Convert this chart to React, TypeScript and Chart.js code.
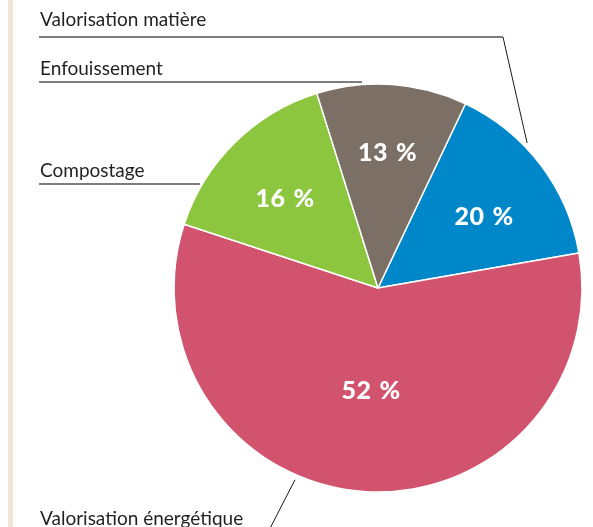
import React, { useEffect, useRef } from "react";
import { Chart, registerables } from "chart.js";

Chart.register(...registerables);

// Slice order (clockwise from the blue slice)
const categories = ["Valorisation matière", "Valorisation énergétique", "Compostage", "Enfouissement"];
// Slice sizes as drawn in the picture (angular share, %)
const sliceShares = [15.2, 57.8, 15.1, 11.9];
// Percentages printed inside the slices
const printedValues = ["20", "52", "16", "13"];
const percentSign = "%";
const sliceColors = ["#0087c9", "#d1536d", "#8cc63f", "#7b6f66"];

const TEXT_FONT = "Lato, 'Open Sans', sans-serif";

const calloutPlugin = {
  id: "callouts",
  afterDraw(chart: any) {
    const ctx = chart.ctx;
    const meta = chart.getDatasetMeta(0);
    const arc0 = meta.data[0];
    const cx = arc0.x;
    const cy = arc0.y;
    const R = arc0.outerRadius;
    const pt = (deg: number, r: number) => {
      const a = (deg * Math.PI) / 180;
      return { x: cx + r * Math.sin(a), y: cy - r * Math.cos(a) };
    };
    const opts = chart.options.plugins.callouts;

    // percentage labels in the slices
    ctx.save();
    ctx.fillStyle = "#ffffff";
    ctx.font = "900 25px " + TEXT_FONT;
    (ctx as any).letterSpacing = "0.5px";
    ctx.textAlign = "left";
    ctx.textBaseline = "alphabetic";
    meta.data.forEach((_arc: any, i: number) => {
      const place = opts.inner[i];
      const p = pt(place.angle, R * place.radius);
      const num = printedValues[i];
      const w1 = ctx.measureText(num).width;
      const w2 = ctx.measureText(percentSign).width;
      const gap = 8;
      const total = w1 + gap + w2;
      const x0 = p.x - total / 2;
      ctx.fillText(num, x0, p.y + 8.5);
      ctx.fillText(percentSign, x0 + w1 + gap, p.y + 8.5);
    });
    ctx.restore();

    // category callouts
    ctx.save();
    ctx.font = "19px " + TEXT_FONT;
    ctx.fillStyle = "#231f20";
    ctx.textAlign = "left";
    ctx.textBaseline = "alphabetic";
    opts.items.forEach((it: any) => {
      ctx.fillText(categories[it.index], it.textX, it.textY);
      if (it.lineY !== undefined) {
        ctx.strokeStyle = "#505050";
        ctx.lineWidth = 1.6;
        ctx.beginPath();
        ctx.moveTo(it.textX - 1, it.lineY);
        ctx.lineTo(it.lineEndX, it.lineY);
        ctx.stroke();
      }
      if (it.anchorAngle !== undefined) {
        const p = pt(it.anchorAngle, R + it.anchorGap);
        ctx.strokeStyle = "#1a1a1a";
        ctx.lineWidth = 1;
        ctx.beginPath();
        ctx.moveTo(it.elbowX, it.elbowY);
        ctx.lineTo(p.x, p.y);
        ctx.stroke();
      }
    });
    ctx.restore();
  },
};

export default function App() {
  const ref = useRef<HTMLCanvasElement | null>(null);
  useEffect(() => {
    if (!ref.current) return;
    const chart = new Chart(ref.current, {
      type: "pie",
      data: {
        labels: categories,
        datasets: [
          {
            data: sliceShares,
            backgroundColor: sliceColors,
            borderColor: "#ffffff",
            borderWidth: 1.5,
          },
        ],
      },
      options: {
        responsive: false,
        animation: false,
        rotation: 25.4,
        radius: 204,
        layout: { padding: { left: 174, right: 11, top: 84, bottom: 35 } },
        plugins: {
          legend: { display: false },
          tooltip: { enabled: false },
          callouts: {
            inner: [
              { angle: 56.1, radius: 0.626 },
              { angle: 183.9, radius: 0.503 },
              { angle: 314.0, radius: 0.633 },
              { angle: 4.0, radius: 0.668 },
            ],
            items: [
              { index: 0, textX: 40, textY: 26, lineY: 37, lineEndX: 503, elbowX: 503, elbowY: 37, anchorAngle: 45.8, anchorGap: 4 },
              { index: 3, textX: 40, textY: 75, lineY: 82, lineEndX: 362 },
              { index: 2, textX: 40, textY: 177, lineY: 184, lineEndX: 200 },
              { index: 1, textX: 40, textY: 525, elbowX: 264, elbowY: 540, anchorAngle: 203.4, anchorGap: 5 },
            ],
          },
        } as any,
      },
      plugins: [calloutPlugin],
    });
    return () => chart.destroy();
  }, []);

  return (
    <div style={{ position: "absolute", left: 0, top: 0, width: 593, height: 527, background: "#ffffff", overflow: "hidden" }}>
      <div style={{ position: "absolute", left: 8, top: 0, width: 5, height: 527, background: "#efe6d9" }} />
      <canvas ref={ref} width={593} height={527} style={{ position: "absolute", left: 0, top: 0, display: "block" }} />
    </div>
  );
}
